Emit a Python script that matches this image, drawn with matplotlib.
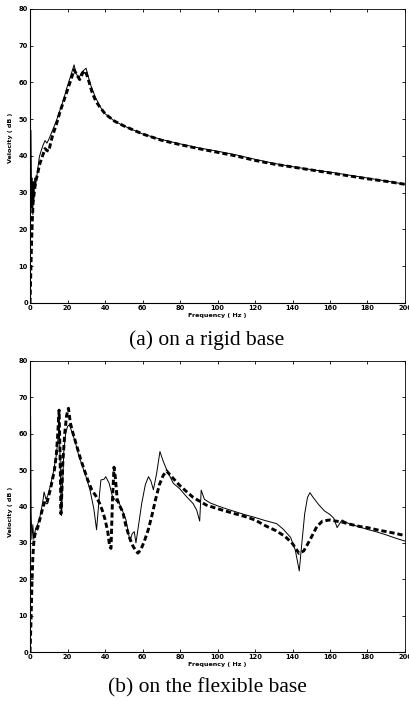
import matplotlib
matplotlib.use("Agg")
import matplotlib.pyplot as plt

# (a) rigid base -- measured (thin solid) and predicted (thick dashed)
freq_a_solid = [0, 0.5, 0.9, 1.2, 1.5, 1.8, 2.1, 2.5, 3, 4, 5, 6, 7, 8, 9, 10,
                12, 14, 16, 18, 19.6, 21.5, 23.5, 24.5, 26.1, 27.5, 29.9, 32,
                34.7, 37.3, 40, 45, 50, 55, 60, 70, 80, 90, 100, 110, 120, 130,
                140, 150, 160, 170, 180, 190, 200]
vel_a_solid = [28, 47, 26, 34, 24, 33, 28, 34, 32, 36, 39.8, 41.5, 43, 44.2, 43.5,
               44.5, 47, 49.5, 52.5, 55.5, 58.5, 61.5, 64.8, 62.5, 61.2, 62.8,
               63.9, 59.8, 56.2, 53.5, 51.5, 49.5, 48.2, 47.1, 46, 44.5, 43.3,
               42.2, 41.3, 40.3, 39.1, 38, 37.1, 36.3, 35.6, 34.8, 34, 33.2, 32.3]

freq_a_dash = [0, 0.4, 0.8, 1.2, 1.6, 2.0, 2.5, 3, 4, 5, 6, 7, 8, 9, 10, 11, 12,
               14, 16, 18, 20, 22, 23.5, 25, 26.5, 28, 29.5, 31, 33, 35, 37, 40,
               45, 50, 55, 60, 70, 80, 90, 100, 110, 120, 130, 140, 150, 160,
               170, 180, 190, 200]
vel_a_dash = [0, 8, 16, 22, 27, 29, 31, 33, 35, 37.5, 39, 40.5, 42, 41.5, 41.3,
              43.5, 45.5, 48.5, 52, 55, 58, 61, 63.5, 62, 60.8, 62.5, 63.2, 61,
              57.5, 55, 53.5, 51.5, 49.5, 48.2, 47.1, 46, 44.3, 43.1, 42, 41, 40,
              38.8, 37.8, 37, 36.2, 35.4, 34.6, 33.8, 33.1, 32.3]

# (b) flexible base
freq_b_solid = [0, 0.3, 0.6, 1, 1.5, 2, 3, 4, 5, 6, 7, 7.5, 8.5, 9.5, 11, 12.5,
                14, 15, 15.6, 16.2, 16.8, 17.3, 18, 19, 20, 21, 22, 24, 26, 28,
                30, 32, 34, 35.5, 37, 37.8, 39.5, 40.4, 42.2, 44, 46, 47.6, 50,
                51.2, 53.3, 54.5, 55.6, 56.5, 57.5, 59.6, 61.5, 63.2, 64.5, 65.8,
                67.5, 69.3, 71, 73, 76.4, 80, 83.5, 87, 88.9, 90.5, 91.3, 93, 96,
                100, 105, 110, 115, 120, 125, 131.5, 135, 139, 141.5, 143.6, 145,
                146.5, 148, 149.3, 151, 154, 157, 160, 162, 163.8, 165, 166.5,
                170, 175, 180, 185, 190, 195, 200]
vel_b_solid = [40, 65, 38, 31, 35, 31, 34, 35, 36.5, 39, 42, 44, 42, 43, 46,
               49.5, 54, 59, 62, 50, 37.5, 45, 55, 60, 62, 62.5, 61, 58, 54, 51,
               48, 44.5, 39.5, 33.6, 43, 47.3, 47.5, 48.2, 46.4, 42.7, 41.5, 40.9,
               38, 36.3, 30.5, 32.5, 33.1, 30, 33.5, 40.9, 46, 48.2, 47, 44.6, 49,
               55.1, 52.5, 50, 46.4, 44.8, 42.7, 40.8, 39, 36, 44.5, 42, 41, 40.2,
               39.3, 38.5, 37.7, 37, 36.2, 35.3, 33.8, 31.5, 28, 22.3, 30, 38,
               42.5, 43.8, 42.5, 40.5, 38.8, 37.8, 36.8, 34.2, 35.2, 36.3, 35.3,
               34.5, 33.7, 33, 32.2, 31.3, 30.5]

freq_b_dash = [0, 0.5, 1, 1.5, 2, 2.5, 3, 4, 5, 6, 7, 8, 9, 10, 11, 12, 13, 14,
               14.8, 15.5, 16, 16.5, 17, 17.5, 18.5, 19.5, 20.5, 21.5, 23, 25, 27,
               29, 31, 33, 35, 37, 38.5, 40, 41.5, 42.5, 43.2, 44, 44.8, 45.5,
               46.5, 48, 49.5, 51, 53, 55, 57.5, 59, 61, 63, 65, 67, 69, 71, 72.8,
               75, 80, 87, 94, 100, 108, 115, 120, 126, 131, 136, 140, 143.5, 146,
               148, 150, 153, 156, 160, 163, 166, 170, 176, 180, 185, 190, 195,
               200]
vel_b_dash = [0, 8, 18, 26, 30, 32, 33, 34, 36, 38, 40, 41.5, 41, 43, 45, 47.5,
              50, 54, 60, 66.5, 55, 38, 44, 52, 60, 65, 67, 63, 60, 56.5, 53, 50,
              47, 44.5, 43, 41, 39, 36.5, 33, 29, 28.5, 42, 50.8, 48, 42, 40,
              38.5, 35, 31.5, 29, 27.2, 28, 30.5, 33.5, 37.5, 42, 46, 48.5, 49.8,
              48.5, 45.7, 42.5, 40.4, 39.4, 38.2, 37.2, 36.3, 34.6, 33.4, 31.8,
              29.8, 27.1, 27.8, 29.6, 31.5, 34.5, 36, 36.3, 36, 35.8, 35.2, 34.5,
              34.2, 33.6, 33.1, 32.6, 32]

xticks = list(range(0, 201, 20))
yticks = list(range(0, 81, 10))

fig = plt.figure(figsize=(4.1, 7.03), dpi=100)
ax_a = fig.add_axes([0.0732, 0.569, 0.9146, 0.4182])
ax_b = fig.add_axes([0.0732, 0.0725, 0.9146, 0.414])

panels = [(ax_a, freq_a_solid, vel_a_solid, freq_a_dash, vel_a_dash, 0.56),
          (ax_b, freq_b_solid, vel_b_solid, freq_b_dash, vel_b_dash, 0.48)]

for ax, fs, vs, fd, vd, ylab_y in panels:
    ax.plot(fs, vs, color="black", lw=0.7)
    ax.plot(fd, vd, color="black", lw=2.1, dashes=(1.8, 1.0))
    ax.set_xlim(0, 200)
    ax.set_ylim(0, 80)
    ax.set_xticks(xticks)
    ax.set_yticks(yticks)
    ax.tick_params(direction="in", length=2.5, width=0.6, top=True, right=True,
                   labelsize=4.8, pad=1.5)
    for lab in ax.get_xticklabels() + ax.get_yticklabels():
        lab.set_fontweight("bold")
    for side in ["top", "right"]:
        ax.spines[side].set_linewidth(0.6)
        ax.spines[side].set_linestyle((0, (4, 1)))
    for side in ["left", "bottom"]:
        ax.spines[side].set_linewidth(0.8)
    ax.set_xlabel("Frequency ( Hz )", fontsize=4.6, fontweight="bold", labelpad=1.5)
    ax.set_ylabel("Velocity ( dB )", fontsize=4.6, fontweight="bold")
    ax.yaxis.set_label_coords(-0.045, ylab_y)

fig.text(0.505, 1 - 340 / 703, "(a) on a rigid base", ha="center", va="center",
         family="Liberation Serif", fontsize=15.5)
fig.text(0.505, 1 - 688 / 703, "(b) on the flexible base", ha="center",
         va="center", family="Liberation Serif", fontsize=15.5)

fig.savefig("out.png", dpi=100)
